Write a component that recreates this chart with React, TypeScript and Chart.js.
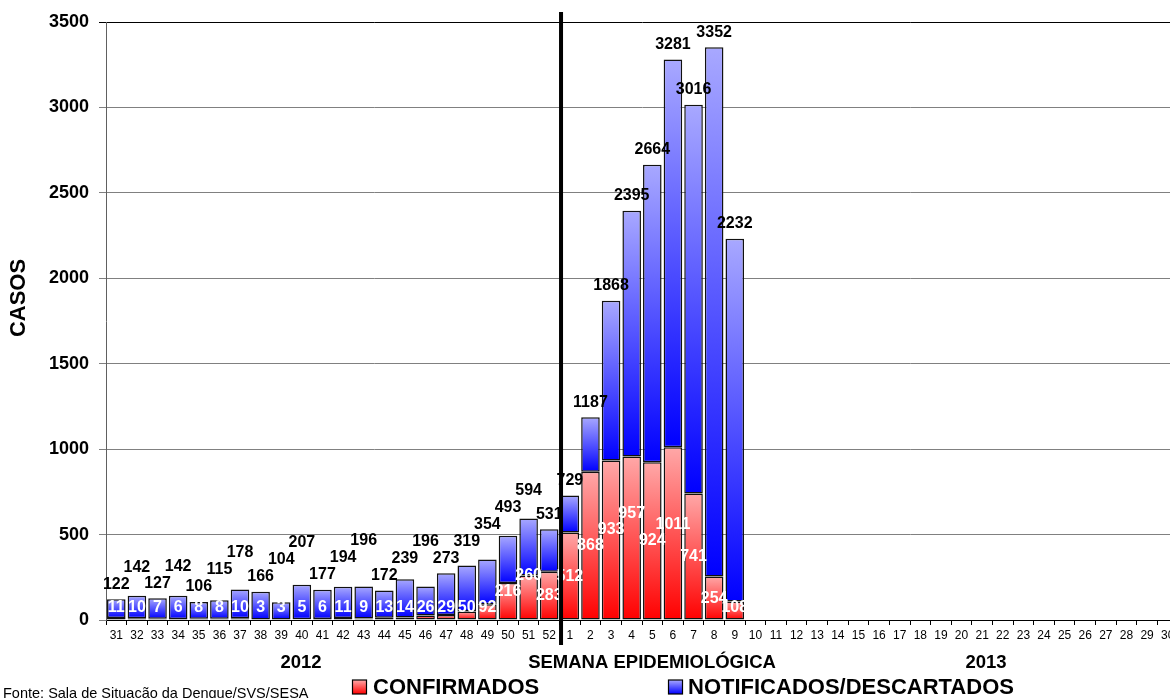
import { useEffect, useRef } from 'react';
import { Chart, registerables } from 'chart.js';

Chart.register(...registerables);

const weeks = [
  '31', '32', '33', '34', '35', '36', '37', '38', '39', '40', '41', '42', '43', '44', '45', '46',
  '47', '48', '49', '50', '51', '52',
  '1', '2', '3', '4', '5', '6', '7', '8', '9', '10', '11', '12', '13', '14', '15', '16', '17', '18',
  '19', '20', '21', '22', '23', '24', '25', '26', '27', '28', '29', '30',
];

// total notified cases per week (label on top of each bar)
const notificados = [
  122, 142, 127, 142, 106, 115, 178, 166, 104, 207, 177, 194, 196, 172, 239, 196,
  273, 319, 354, 493, 594, 531,
  729, 1187, 1868, 2395, 2664, 3281, 3016, 3352, 2232, null, null, null, null, null, null, null, null, null,
  null, null, null, null, null, null, null, null, null, null, null, null,
];

// confirmed cases per week
const confirmados = [
  11, 10, 7, 6, 8, 8, 10, 3, 3, 5, 6, 11, 9, 13, 14, 26,
  29, 50, 92, 216, 260, 283,
  512, 868, 933, 957, 924, 1011, 741, 254, 108, null, null, null, null, null, null, null, null, null,
  null, null, null, null, null, null, null, null, null, null, null, null,
];

const yTicks = [0, 500, 1000, 1500, 2000, 2500, 3000, 3500];

const FONT = '"Liberation Sans", Arial, Helvetica, sans-serif';

const RED_LIGHT = '#ffa8a8';
const RED_DARK = '#ff0000';
const BLUE_LIGHT = '#a8a8ff';
const BLUE_DARK = '#0000ff';

function gradient(light: string, dark: string) {
  return (ctx: any) => {
    const chart = ctx.chart;
    const y = chart.scales && chart.scales.y;
    if (!y || ctx.type !== 'data') return dark;
    const raw = ctx.raw;
    if (raw == null) return dark;
    const lo = Array.isArray(raw) ? raw[0] : 0;
    const hi = Array.isArray(raw) ? raw[1] : raw;
    const top = y.getPixelForValue(hi);
    const bot = y.getPixelForValue(lo);
    if (!isFinite(top) || !isFinite(bot) || Math.abs(bot - top) < 0.5) return dark;
    const g = chart.ctx.createLinearGradient(0, top, 0, bot);
    g.addColorStop(0, light);
    g.addColorStop(1, dark);
    return g;
  };
}

// draws labels, lifting a label above its left neighbour when the two would collide
function drawStaggered(
  ctx: any,
  items: { text: string; x: number; y: number }[],
  lift: number,
  gap: number,
) {
  let prev: { x: number; y: number; w: number } | null = null;
  for (const it of items) {
    const w = ctx.measureText(it.text).width;
    let y = it.y;
    if (prev && Math.abs(it.x - prev.x) < (w + prev.w) / 2 && Math.abs(y - prev.y) < gap) {
      y = prev.y - lift;
    }
    ctx.fillText(it.text, it.x, y);
    prev = { x: it.x, y, w };
  }
}

const decorPlugin = {
  id: 'decor',
  afterDatasetsDraw(chart: any) {
    const { ctx, scales } = chart;
    const y = scales.y;
    const base = y.getPixelForValue(0);
    const redMeta = chart.getDatasetMeta(0);
    const blueMeta = chart.getDatasetMeta(1);
    ctx.save();
    ctx.textAlign = 'center';
    ctx.textBaseline = 'middle';
    // confirmed labels (white)
    ctx.font = `bold 16px ${FONT}`;
    ctx.fillStyle = '#ffffff';
    const redItems: { text: string; x: number; y: number }[] = [];
    confirmados.forEach((v, i) => {
      if (v == null) return;
      const top = y.getPixelForValue(v);
      redItems.push({ text: String(v), x: redMeta.data[i].x, y: Math.min((top + base) / 2, base - 12) });
    });
    drawStaggered(ctx, redItems, 16, 9);
    // totals (black, above bars)
    ctx.fillStyle = '#000000';
    const topItems: { text: string; x: number; y: number }[] = [];
    notificados.forEach((v, i) => {
      if (v == null) return;
      topItems.push({ text: String(v), x: blueMeta.data[i].x, y: y.getPixelForValue(v) - 15 });
    });
    drawStaggered(ctx, topItems, 17, 15);
    ctx.restore();
  },
  afterDraw(chart: any) {
    const { ctx, scales } = chart;
    const x = scales.x;
    ctx.save();
    // year separator
    const sep = (x.getPixelForValue(21) + x.getPixelForValue(22)) / 2 + 1.5;
    ctx.strokeStyle = '#000000';
    ctx.lineWidth = 4;
    ctx.beginPath();
    ctx.moveTo(sep, 12);
    ctx.lineTo(sep, 645);
    ctx.stroke();

    // y axis title
    ctx.fillStyle = '#000000';
    ctx.font = `bold 22px ${FONT}`;
    ctx.textAlign = 'center';
    ctx.textBaseline = 'middle';
    ctx.save();
    ctx.translate(19, 298);
    ctx.rotate(-Math.PI / 2);
    ctx.fillText('CASOS', 0, 0);
    ctx.restore();

    // x axis titles
    ctx.font = `bold 18.5px ${FONT}`;
    ctx.textBaseline = 'alphabetic';
    ctx.fillText('2012', 301, 668);
    ctx.fillText('SEMANA EPIDEMIOLÓGICA', 652, 668);
    ctx.fillText('2013', 986, 668);

    // legend
    const drawBox = (bx: number, light: string, dark: string) => {
      const g = ctx.createLinearGradient(0, 680, 0, 694);
      g.addColorStop(0, light);
      g.addColorStop(1, dark);
      ctx.fillStyle = g;
      ctx.fillRect(bx, 680, 14, 14);
      ctx.strokeStyle = '#000000';
      ctx.lineWidth = 1.2;
      ctx.strokeRect(bx, 680, 14, 14);
    };
    drawBox(352.5, RED_LIGHT, RED_DARK);
    drawBox(668.5, BLUE_LIGHT, BLUE_DARK);
    ctx.fillStyle = '#000000';
    ctx.font = `bold 22px ${FONT}`;
    ctx.textAlign = 'left';
    ctx.fillText(chart.data.datasets[0].label, 373, 694);
    ctx.fillText(chart.data.datasets[1].label, 688, 694);

    // source
    ctx.font = `14.5px ${FONT}`;
    ctx.fillText('Fonte: Sala de Situação da Dengue/SVS/SESA', 3, 698);
    ctx.restore();
  },
};

export default function App() {
  const ref = useRef<HTMLCanvasElement>(null);

  useEffect(() => {
    const canvas = ref.current;
    if (!canvas) return;
    const blueRanges = notificados.map((t, i) => (t == null ? null : [confirmados[i] ?? 0, t]));
    const chart = new Chart(canvas, {
      type: 'bar',
      data: {
        labels: weeks,
        datasets: [
          {
            label: 'CONFIRMADOS',
            data: confirmados as any,
            backgroundColor: gradient(RED_LIGHT, RED_DARK) as any,
            borderColor: '#111111',
            borderWidth: 1.5,
            borderSkipped: false,
            grouped: false,
            barPercentage: 0.9,
            categoryPercentage: 1,
          },
          {
            label: 'NOTIFICADOS/DESCARTADOS',
            data: blueRanges as any,
            backgroundColor: gradient(BLUE_LIGHT, BLUE_DARK) as any,
            borderColor: '#111111',
            borderWidth: 1.5,
            borderSkipped: false,
            grouped: false,
            barPercentage: 0.9,
            categoryPercentage: 1,
          },
        ],
      },
      options: {
        responsive: false,
        animation: false,
        layout: { padding: { top: 22, right: 2, left: 0, bottom: 0 } },
        plugins: {
          legend: { display: false },
          tooltip: { enabled: false },
          title: { display: false },
        },
        scales: {
          x: {
            afterFit: (s: any) => {
              s.height = 78;
            },
            grid: {
              drawOnChartArea: false,
              tickLength: 5,
              color: '#000000',
              offset: true,
            },
            border: { color: '#000000', width: 1 },
            ticks: {
              color: '#000000',
              font: { family: FONT, size: 12 },
              maxRotation: 0,
              autoSkip: false,
              padding: 3,
            },
          },
          y: {
            min: 0,
            max: 3500,
            afterFit: (s: any) => {
              s.width = 106;
            },
            afterBuildTicks: (s: any) => {
              s.ticks = yTicks.map((v) => ({ value: v }));
            },
            grid: {
              color: (c: any) => (c.tick && c.tick.value === 3500 ? '#000000' : '#808080'),
              tickLength: 7,
              lineWidth: 1,
            },
            border: { color: '#606060', width: 1 },
            ticks: {
              color: '#000000',
              font: { family: FONT, size: 18, weight: 'bold' },
              padding: 10,
              callback: (v: any) => String(v),
            },
          },
        },
      },
      plugins: [decorPlugin],
    });
    return () => chart.destroy();
  }, []);

  return (
    <div
      style={{
        position: 'absolute',
        left: 0,
        top: 0,
        width: 1170,
        height: 698,
        overflow: 'hidden',
        background: '#ffffff',
      }}
    >
      <canvas ref={ref} width={1180} height={698} style={{ width: 1180, height: 698, display: 'block' }} />
    </div>
  );
}
